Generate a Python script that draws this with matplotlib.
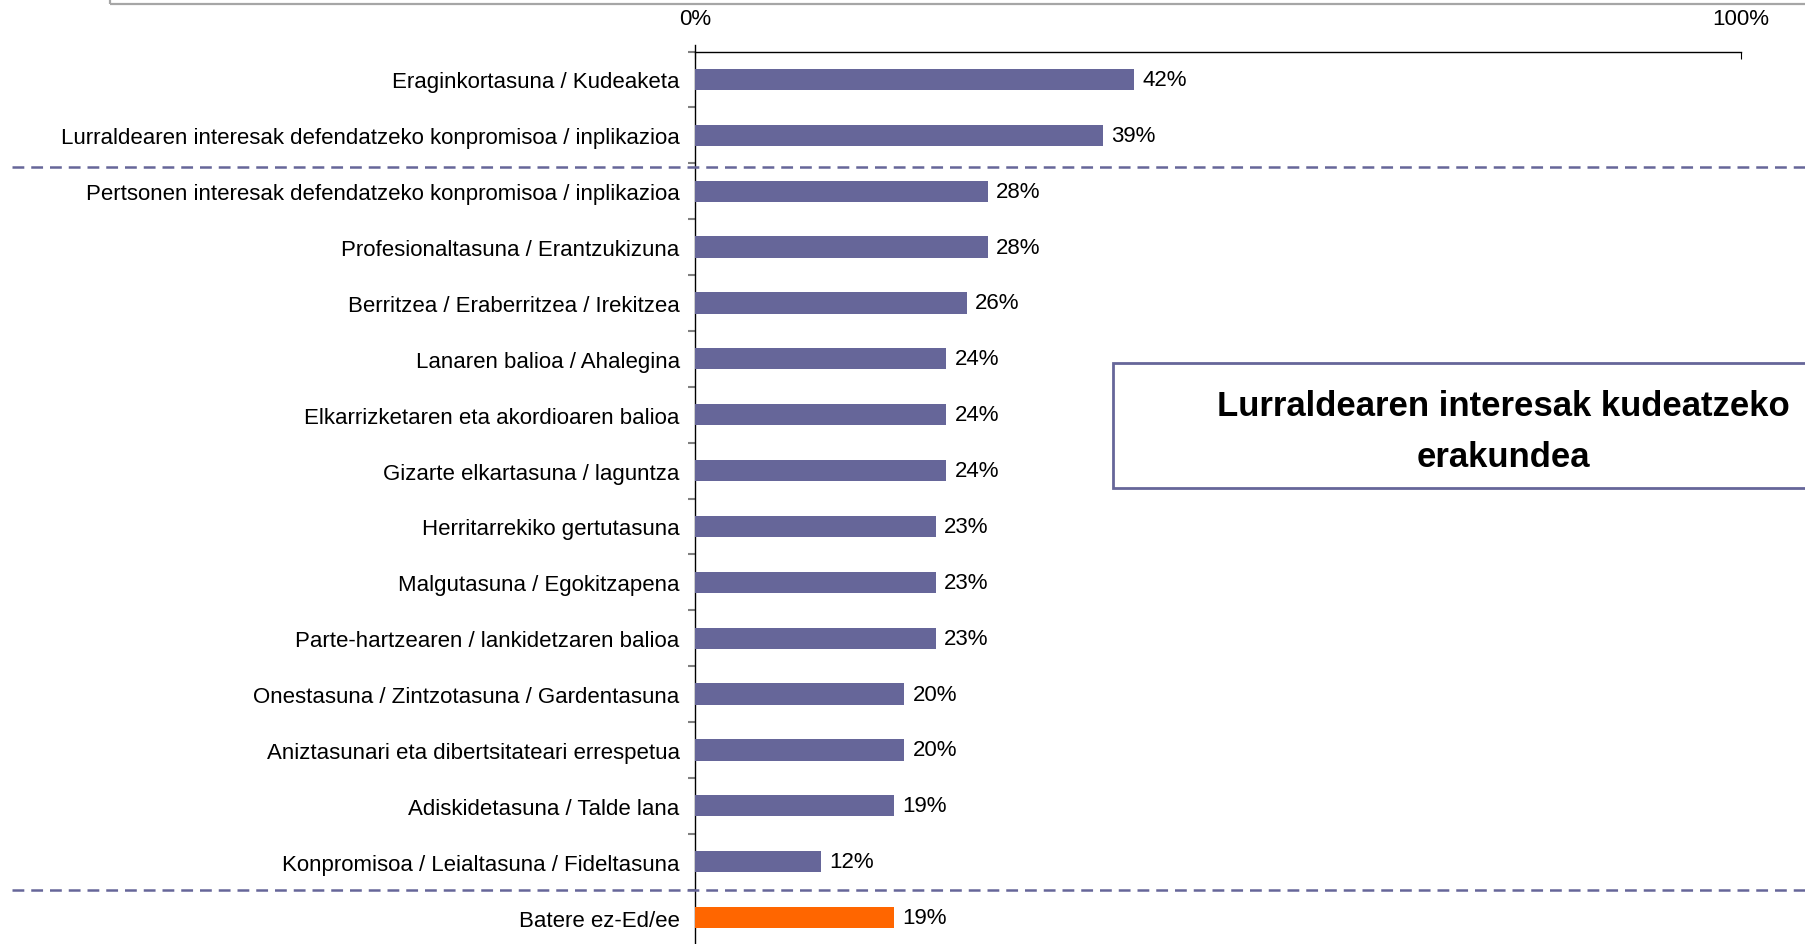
import numpy as np
import matplotlib
matplotlib.use("Agg")
import matplotlib.pyplot as plt
from matplotlib.patches import Rectangle
from matplotlib import transforms

plt.rcParams['font.family'] = ['Liberation Sans', 'DejaVu Sans']
plt.rcParams['lines.scale_dashes'] = False

labels = [
    "Eraginkortasuna / Kudeaketa",
    "Lurraldearen interesak defendatzeko konpromisoa / inplikazioa",
    "Pertsonen interesak defendatzeko konpromisoa / inplikazioa",
    "Profesionaltasuna / Erantzukizuna",
    "Berritzea / Eraberritzea / Irekitzea",
    "Lanaren balioa / Ahalegina",
    "Elkarrizketaren eta akordioaren balioa",
    "Gizarte elkartasuna / laguntza",
    "Herritarrekiko gertutasuna",
    "Malgutasuna / Egokitzapena",
    "Parte-hartzearen / lankidetzaren balioa",
    "Onestasuna / Zintzotasuna / Gardentasuna",
    "Aniztasunari eta dibertsitateari errespetua",
    "Adiskidetasuna / Talde lana",
    "Konpromisoa / Leialtasuna / Fideltasuna",
    "Batere ez-Ed/ee",
]
values = [42, 39, 28, 28, 26, 24, 24, 24, 23, 23, 23, 20, 20, 19, 12, 19]
box_title = "Lurraldearen interesak kudeatzeko\nerakundea"

purple = "#666699"
orange = "#FF6600"
colors = [purple] * (len(values) - 1) + [orange]

W, H = 1805, 945
fig = plt.figure(figsize=(W / 100, H / 100), dpi=100)
ax = fig.add_axes([695 / W, -1.5 / H, (1741 - 695) / W, (945 - 52.5 + 1.5) / H])

y = np.arange(len(values))
ax.barh(y, values, height=0.38, color=colors, zorder=3)
for yi, v in zip(y, values):
    ax.text(v + 0.8, yi, f"{v}%", va="center", ha="left", fontsize=16)

ax.set_xlim(0, 100)
ax.set_ylim(len(values) - 0.5, -0.5)
ax.set_xticks([0, 100])
ax.set_xticklabels(["0%", "100%"])
ax.xaxis.tick_top()
ax.tick_params(axis="x", direction="in", length=5, pad=16, labelsize=16, top=True, bottom=False)
ax.set_yticks(y)
ax.set_yticklabels(labels)
ax.set_yticks(np.arange(len(values) + 1) - 0.5, minor=True)
ax.tick_params(axis="y", which="major", length=0, pad=11, labelsize=16)
ax.tick_params(axis="y", which="minor", length=5, color="#808080", width=1.5)

for s in ["right", "bottom"]:
    ax.spines[s].set_visible(False)
ax.spines["top"].set_linewidth(1)
ax.spines["left"].set_linewidth(1)
ax.spines["left"].set_bounds(len(values) - 0.5, -0.62)

# dashed group separators
tr = transforms.blended_transform_factory(fig.transFigure, ax.transData)
for yb in [1.56, 14.5]:
    ax.plot([12 / W, 1.0], [yb, yb], transform=tr, color=purple, lw=1.8,
            dashes=(8.5, 5), clip_on=False, zorder=4)

# grey frame from the panel above
fig.patches.append(Rectangle((110 / W, 1 - 4.5 / H), 1.0, 0.05, transform=fig.transFigure,
                             fill=False, edgecolor="#A6A6A6", lw=1.6))

# title box
fig.patches.append(Rectangle((1113 / W, 1 - 489 / H), 0.5, (489 - 364) / H, transform=fig.transFigure,
                             facecolor="white", edgecolor=purple, lw=2, zorder=5))
fig.text(1503 / W, 1 - 432 / H, box_title, ha="center", va="center", fontsize=25,
         fontweight="bold", linespacing=1.68, zorder=6)

fig.savefig("out.png", dpi=100)
